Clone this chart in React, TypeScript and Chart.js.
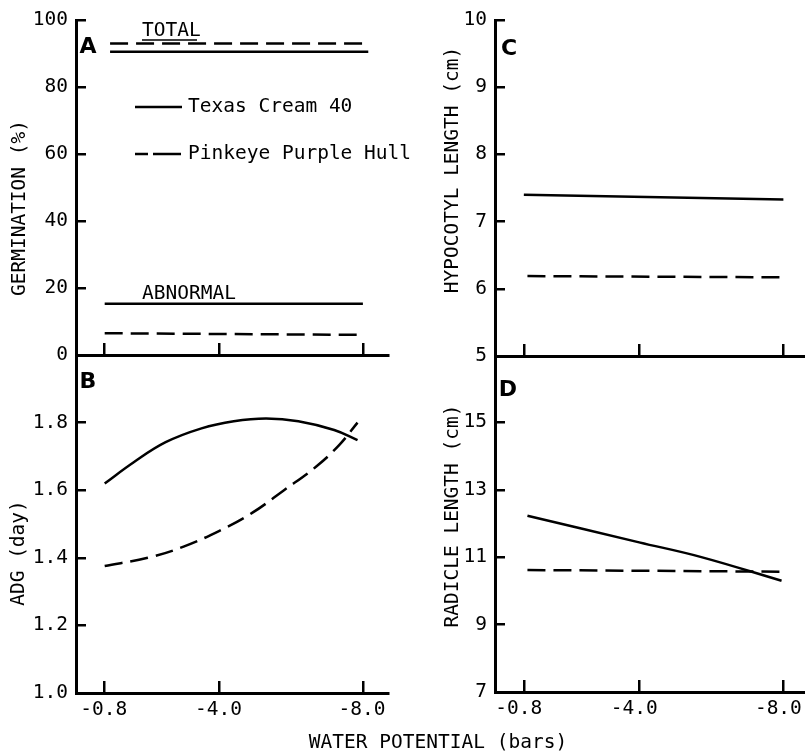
import React, { useEffect, useRef } from 'react';
import { Chart, registerables } from 'chart.js';
Chart.register(...registerables);

const W = 805;
const H = 755;

// ---- shared axis data ----
const xTickValues = [-0.8, -4.0, -8.0];
const xTitle = 'WATER POTENTIAL (bars)';
const seriesNames = ['Texas Cream 40', 'Pinkeye Purple Hull'];
const panelLetters = ['A', 'B', 'C', 'D'];
const annotationLabels = ['TOTAL', 'ABNORMAL'];

// ---- Panel A: germination (%) ----
const aTitle = 'GERMINATION (%)';
const aYTicks = [0, 20, 40, 60, 80, 100];
const totalX = [-0.95, -8.15];
const totalTexas = [90.5, 90.5];
const totalPinkeye = [93, 93];
const abnormalX = [-0.8, -8.0];
const abnormalTexas = [15.3, 15.3];
const abnormalPinkeye = [6.5, 6.0];

// ---- Panel B: ADG (day) ----
const bTitle = 'ADG (day)';
const bYTicks = [1.0, 1.2, 1.4, 1.6, 1.8];
const bTexasX = [-0.8, -1.6, -2.5, -3.5, -4.4, -5.3, -6.2, -7.2, -7.85];
const bTexasY = [1.62, 1.682, 1.742, 1.783, 1.804, 1.812, 1.804, 1.778, 1.748];
const bPinkX = [-0.8, -2.0, -3.0, -4.0, -4.9, -5.8, -6.7, -7.35, -7.85];
const bPinkY = [1.376, 1.40, 1.433, 1.48, 1.532, 1.60, 1.67, 1.735, 1.80];

// ---- Panel C: hypocotyl length (cm) ----
const cTitle = 'HYPOCOTYL LENGTH (cm)';
const cYTicks = [5, 6, 7, 8, 9, 10];
const cTexasX = [-0.8, -8.0];
const cTexasY = [7.40, 7.33];
const cPinkX = [-0.9, -8.0];
const cPinkY = [6.19, 6.17];

// ---- Panel D: radicle length (cm) ----
const dTitle = 'RADICLE LENGTH (cm)';
const dYTicks = [7, 9, 11, 13, 15];
const dTexasX = [-0.9, -4.0, -5.7, -7.95];
const dTexasY = [12.23, 11.44, 11.01, 10.30];
const dPinkX = [-0.9, -7.9];
const dPinkY = [10.62, 10.57];

const FAMILY = "'DejaVu Sans Mono', monospace";
const MONO = `19.5px ${FAMILY}`;
const LETTER = "bold 22px 'DejaVu Sans', sans-serif";
const DASH = [18, 8];

function series(xs: number[], ys: number[], dashed: boolean, smooth = false) {
  return {
    data: xs.map((x, i) => ({ x, y: ys[i] })),
    borderColor: '#000',
    borderWidth: 2.5,
    borderDash: dashed ? DASH : [],
    pointRadius: 0,
    tension: smooth ? 0.4 : 0,
    fill: false,
  };
}

type Txt = { text: string; x: number; y: number; font: string; align?: CanvasTextAlign; rot?: boolean };
type Seg = { x1: number; x2: number; y: number; w: number };

const panels = [
  {
    id: 'A', L: 76, T: 20, R: 388, B: 355, xMin: -8.7, yMin: 0, yMax: 100, yTicks: aYTicks,
    yFmt: (v: number) => String(v), xLabels: false, labelShift: 0,
    datasets: [
      series(totalX, totalPinkeye, true),
      series(totalX, totalTexas, false),
      series(abnormalX, abnormalTexas, false),
      series(abnormalX, abnormalPinkeye, true),
    ],
    texts: [
      { text: panelLetters[0], x: 88, y: 47, font: LETTER },
      { text: annotationLabels[0], x: 142, y: 31, font: MONO, align: 'left' },
      { text: annotationLabels[1], x: 142, y: 294, font: MONO, align: 'left' },
      { text: seriesNames[0], x: 188, y: 107, font: MONO, align: 'left' },
      { text: seriesNames[1], x: 188, y: 154, font: MONO, align: 'left' },
      { text: aTitle, x: 20, y: 208, font: MONO, rot: true },
    ] as Txt[],
    segs: [
      { x1: 135, x2: 182, y: 107, w: 2.5 },
      { x1: 135, x2: 148, y: 154, w: 2.5 },
      { x1: 153, x2: 181, y: 154, w: 2.5 },
      { x1: 142, x2: 197, y: 40, w: 1.5 },
    ] as Seg[],
  },
  {
    id: 'B', L: 76, T: 355, R: 388, B: 693, xMin: -8.7, yMin: 1.0, yMax: 2.0, yTicks: bYTicks,
    yFmt: (v: number) => v.toFixed(1), xLabels: true, labelShift: -1,
    datasets: [
      series(bTexasX, bTexasY, false, true),
      series(bPinkX, bPinkY, true, true),
    ],
    texts: [
      { text: panelLetters[1], x: 88, y: 382, font: LETTER },
      { text: bTitle, x: 19, y: 553, font: MONO, rot: true },
    ] as Txt[],
    segs: [] as Seg[],
  },
  {
    id: 'C', L: 495, T: 20, R: 805, B: 356, xMin: -8.6, yMin: 5, yMax: 10, yTicks: cYTicks,
    yFmt: (v: number) => String(v), xLabels: false, labelShift: 0,
    datasets: [
      series(cTexasX, cTexasY, false),
      series(cPinkX, cPinkY, true),
    ],
    texts: [
      { text: panelLetters[2], x: 509, y: 49, font: LETTER },
      { text: cTitle, x: 453, y: 170, font: MONO, rot: true },
    ] as Txt[],
    segs: [] as Seg[],
  },
  {
    id: 'D', L: 495, T: 355, R: 805, B: 692, xMin: -8.6, yMin: 7, yMax: 17, yTicks: dYTicks,
    yFmt: (v: number) => String(v), xLabels: true, labelShift: -5,
    datasets: [
      series(dTexasX, dTexasY, false, true),
      series(dPinkX, dPinkY, true),
    ],
    texts: [
      { text: panelLetters[3], x: 508, y: 390, font: LETTER },
      { text: dTitle, x: 453, y: 516, font: MONO, rot: true },
      { text: xTitle, x: 438, y: 743, font: MONO },
    ] as Txt[],
    segs: [] as Seg[],
  },
];

type PanelCfg = typeof panels[number];

const X_BOX = 40;

function zeroPad(s: any) {
  s.paddingLeft = 0;
  s.paddingRight = 0;
  s.paddingTop = 0;
  s.paddingBottom = 0;
}

function makeConfig(p: PanelCfg): any {
  const overlay = {
    id: 'overlay' + p.id,
    afterDraw(chart: any) {
      const ctx = chart.ctx as CanvasRenderingContext2D;
      ctx.save();
      ctx.fillStyle = '#000';
      ctx.strokeStyle = '#000';
      for (const s of p.segs) {
        ctx.lineWidth = s.w;
        ctx.beginPath();
        ctx.moveTo(s.x1, s.y);
        ctx.lineTo(s.x2, s.y);
        ctx.stroke();
      }
      for (const t of p.texts) {
        ctx.save();
        ctx.font = t.font;
        ctx.textAlign = t.align || 'center';
        ctx.textBaseline = 'middle';
        ctx.translate(t.x, t.y);
        if (t.rot) ctx.rotate(-Math.PI / 2);
        ctx.fillText(t.text, 0, 0);
        ctx.restore();
      }
      ctx.restore();
    },
  };
  const font = { family: FAMILY, size: 19.5 };
  return {
    type: 'line',
    data: { datasets: p.datasets },
    options: {
      responsive: false,
      maintainAspectRatio: false,
      animation: false,
      events: [],
      layout: {
        autoPadding: false,
        padding: { left: 0, top: p.T, right: W - p.R, bottom: H - p.B - X_BOX },
      },
      plugins: { legend: { display: false }, tooltip: { enabled: false }, title: { display: false } },
      scales: {
        x: {
          type: 'linear',
          reverse: true,
          min: p.xMin,
          max: 0,
          afterFit: (s: any) => { s.height = X_BOX; zeroPad(s); },
          afterBuildTicks: (s: any) => { s.ticks = xTickValues.map((v) => ({ value: v })); },
          border: { display: true, color: '#000', width: 3 },
          grid: { drawOnChartArea: false, drawTicks: true, tickLength: -12, color: '#000', lineWidth: 2.5 },
          ticks: {
            padding: 17, font, color: '#000', maxRotation: 0, minRotation: 0, autoSkip: false,
            labelOffset: p.labelShift,
            callback: (v: number) => (p.xLabels ? Number(v).toFixed(1) : ''),
          },
        },
        y: {
          type: 'linear',
          min: p.yMin,
          max: p.yMax,
          afterFit: (s: any) => { s.width = p.L; zeroPad(s); },
          afterBuildTicks: (s: any) => { s.ticks = p.yTicks.map((v) => ({ value: v })); },
          border: { display: true, color: '#000', width: 3 },
          grid: { drawOnChartArea: false, drawTicks: true, tickLength: -10, color: '#000', lineWidth: 2.5 },
          ticks: {
            padding: 18, font, color: '#000', autoSkip: false,
            callback: (v: number) => p.yFmt(Number(v)),
          },
        },
      },
    },
    plugins: [overlay],
  };
}

function Panel({ cfg }: { cfg: PanelCfg }) {
  const ref = useRef<HTMLCanvasElement>(null);
  useEffect(() => {
    const chart = new Chart(ref.current as HTMLCanvasElement, makeConfig(cfg));
    return () => chart.destroy();
  }, [cfg]);
  return (
    <canvas
      ref={ref}
      width={W}
      height={H}
      style={{ position: 'absolute', left: 0, top: 0, width: W, height: H }}
    />
  );
}

export default function App() {
  return (
    <div style={{ position: 'absolute', left: 0, top: 0, width: W, height: H, background: '#fff', overflow: 'hidden' }}>
      {panels.map((p) => (
        <Panel key={p.id} cfg={p} />
      ))}
    </div>
  );
}
